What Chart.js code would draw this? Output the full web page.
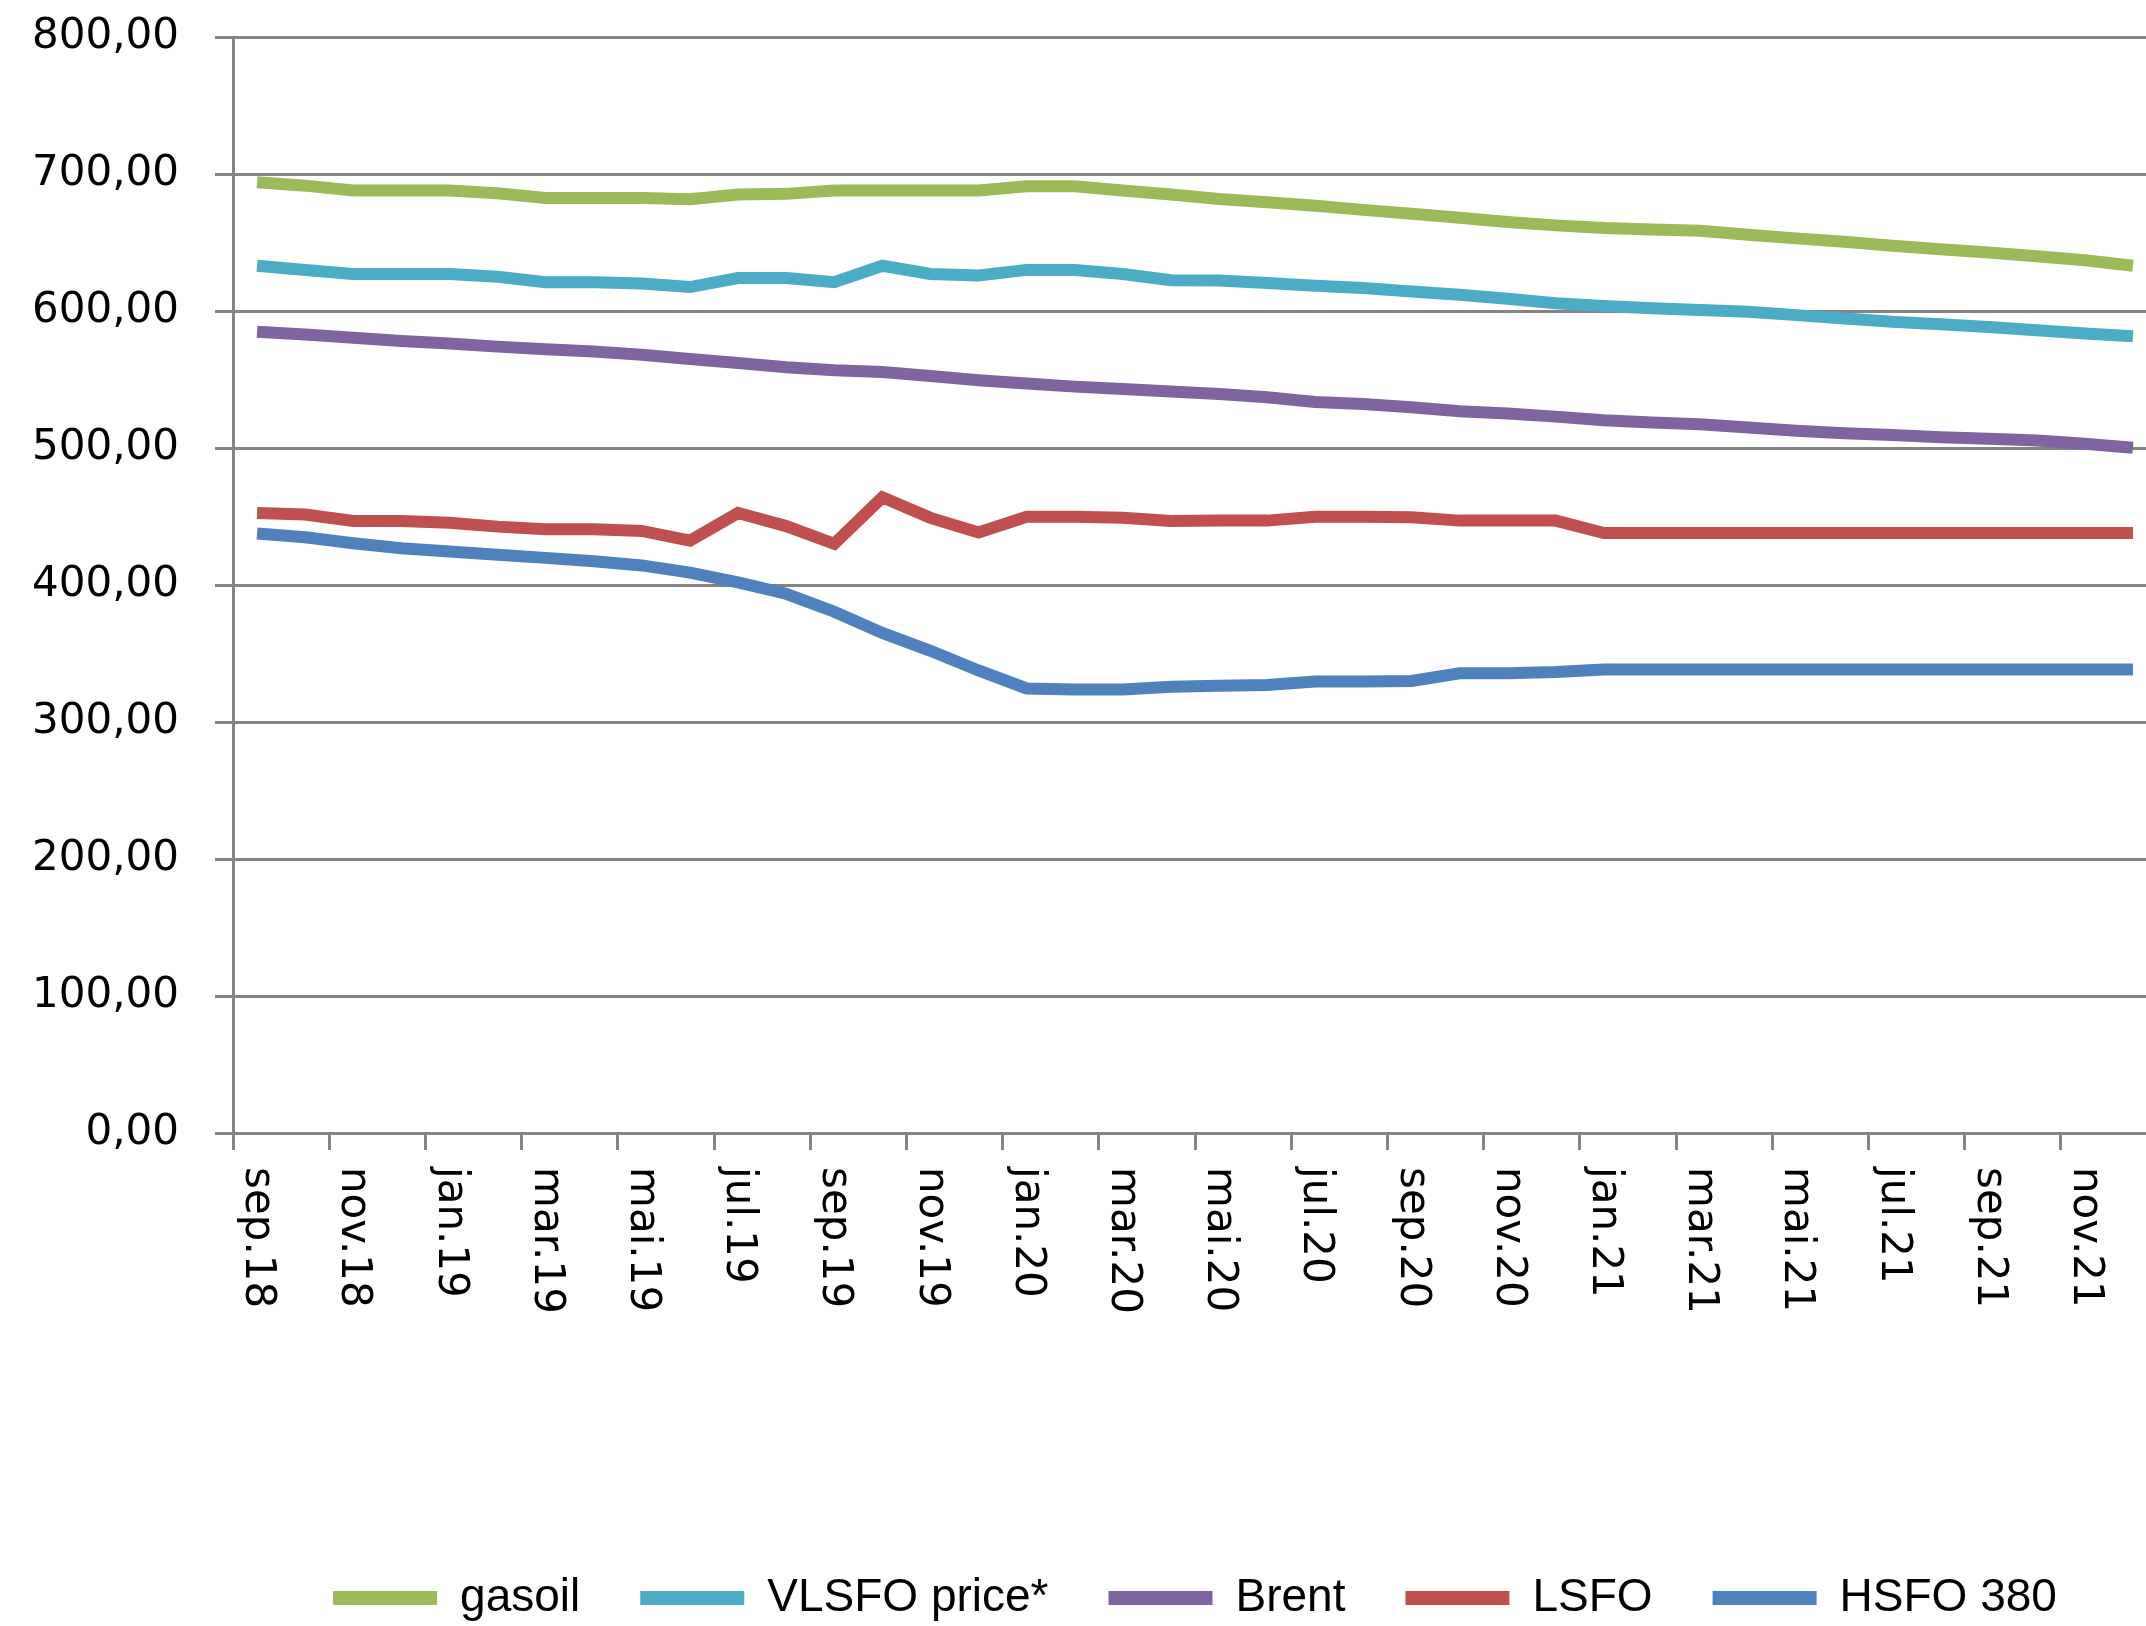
<!DOCTYPE html>
<html lang="no">
<head>
    <meta charset="UTF-8">
    <title>Drivstoffpriser</title>
    <style>
        html, body {
            margin: 0;
            padding: 0;
            background: #fff;
            overflow: hidden;
        }
        canvas {
            display: block;
        }
    </style>
</head>
<body>
    <canvas id="myChart" width="2160" height="1631"></canvas>

    <script src="https://cdn.jsdelivr.net/npm/chart.js"></script>
    <script>
        // Måneder sep.18 - des.21
        const months = [
            'sep.18', 'okt.18', 'nov.18', 'des.18',
            'jan.19', 'feb.19', 'mar.19', 'apr.19', 'mai.19', 'jun.19',
            'jul.19', 'aug.19', 'sep.19', 'okt.19', 'nov.19', 'des.19',
            'jan.20', 'feb.20', 'mar.20', 'apr.20', 'mai.20', 'jun.20',
            'jul.20', 'aug.20', 'sep.20', 'okt.20', 'nov.20', 'des.20',
            'jan.21', 'feb.21', 'mar.21', 'apr.21', 'mai.21', 'jun.21',
            'jul.21', 'aug.21', 'sep.21', 'okt.21', 'nov.21', 'des.21'
        ];

        const seriesNames = ['gasoil', 'VLSFO price*', 'Brent', 'LSFO', 'HSFO 380'];

        const gasoil = [
            694, 691.5, 688, 688, 688, 686, 682.5, 682.5, 682.5, 681.5,
            685, 685.5, 688, 688, 688, 688, 691, 691, 688, 685,
            681.7, 679.3, 676.8, 673.8, 671, 668, 665, 662.5, 660.5, 659.5,
            658.5, 655.6, 653, 650.6, 647.6, 645, 642.7, 640, 637, 633
        ];
        const vlsfo = [
            633, 630, 627, 627, 627, 625, 621, 621, 620, 617.5,
            624, 624, 621, 633, 627, 626, 630, 630, 627, 622.5,
            622.2, 620.5, 618.5, 616.8, 614.3, 611.9, 608.9, 605.7, 603.7, 602,
            600.7, 599.5, 597, 594.6, 592.1, 590.4, 588.4, 586, 583.5, 581.5
        ];
        const brent = [
            584.8, 582.9, 580.5, 578.1, 576.2, 574, 572.1, 570.5, 568.1, 565,
            562.1, 559, 556.7, 555.5, 552.6, 549.5, 547.1, 544.8, 543.1, 541.2,
            539.5, 537.1, 533.6, 532.1, 529.8, 526.9, 525.2, 522.9, 520.2, 518.6,
            517.4, 515, 512.6, 510.7, 509.5, 507.9, 506.7, 505.5, 503.1, 500.2
        ];
        const lsfo = [
            452.6, 451.4, 446.7, 446.7, 445.5, 442.6, 440.7, 440.7, 439.5, 432.4,
            452.6, 443, 430, 464, 449, 438.3, 449.8, 449.8, 449, 446.7,
            447, 447, 449.8, 449.8, 449.5, 447, 447, 447, 438, 438,
            438, 438, 438, 438, 438, 438, 438, 438, 438, 438
        ];
        const hsfo = [
            437.6, 434.8, 430.5, 426.9, 424.5, 422.1, 419.8, 417.4, 414.3, 409,
            401.9, 393.6, 380.5, 365, 352, 337.6, 324.5, 323.8, 323.8, 325.7,
            326.4, 327, 329.5, 329.5, 330, 335.5, 335.5, 336.5, 338.3, 338.3,
            338.3, 338.3, 338.3, 338.3, 338.3, 338.3, 338.3, 338.3, 338.3, 338.3
        ];

        const colors = ['#9BBB59', '#4BACC6', '#8064A2', '#C0504D', '#4F81BD'];
        const gridGray = '#848484';

        // Excel-aktige etiketter, rotert 90 grader (leses ovenfra og ned)
        const xLabelPlugin = {
            id: 'xLabels',
            afterDraw(chart) {
                const xs = chart.scales.x;
                const ctx = chart.ctx;
                ctx.save();
                ctx.font = '42px "DejaVu Sans"';
                ctx.fillStyle = '#000';
                ctx.textAlign = 'left';
                ctx.textBaseline = 'middle';
                xs.ticks.forEach((t, i) => {
                    if (i % 2 !== 0) return;
                    ctx.save();
                    ctx.translate(xs.getPixelForTick(i), xs.top + 34);
                    ctx.rotate(Math.PI / 2);
                    ctx.fillText(months[i], 0, 0);
                    ctx.restore();
                });
                ctx.restore();
            }
        };

        Chart.defaults.font.family = '"DejaVu Sans", sans-serif';
        Chart.defaults.color = '#000';

        const allData = [gasoil, vlsfo, brent, lsfo, hsfo];

        const ctx = document.getElementById('myChart').getContext('2d');
        const myChart = new Chart(ctx, {
            type: 'line',
            data: {
                labels: months,
                datasets: allData.map((d, i) => ({
                    label: seriesNames[i],
                    data: d,
                    borderColor: colors[i],
                    backgroundColor: colors[i],
                    borderWidth: 12,
                    pointRadius: 0,
                    tension: 0,
                    fill: false
                }))
            },
            plugins: [xLabelPlugin],
            options: {
                responsive: false,
                animation: false,
                devicePixelRatio: 1,
                layout: {
                    padding: { top: 37, left: 0, right: 3, bottom: 0 }
                },
                plugins: {
                    tooltip: { enabled: false },
                    legend: {
                        position: 'bottom',
                        fullSize: false,
                        labels: {
                            font: { family: '"Liberation Sans", Arial, sans-serif', size: 46 },
                            color: '#000',
                            boxWidth: 104,
                            boxHeight: 14,
                            padding: 60,
                            generateLabels(chart) {
                                const items = Chart.defaults.plugins.legend.labels.generateLabels(chart);
                                items.forEach(it => { it.lineWidth = 0; });
                                return items;
                            }
                        }
                    }
                },
                scales: {
                    x: {
                        offset: true,
                        ticks: { display: false, autoSkip: false },
                        grid: {
                            offset: true,
                            drawOnChartArea: false,
                            drawTicks: true,
                            tickLength: 17,
                            lineWidth: 3,
                            color: (c) => (c.index % 2 === 0 ? gridGray : 'rgba(0,0,0,0)')
                        },
                        border: { display: true, color: gridGray, width: 3 },
                        afterFit(scale) { scale.height = 382; }
                    },
                    y: {
                        min: 0,
                        max: 800,
                        ticks: {
                            stepSize: 100,
                            padding: 36,
                            font: { size: 42 },
                            color: '#000',
                            callback: (v) => v.toFixed(2).replace('.', ',')
                        },
                        grid: {
                            color: gridGray,
                            lineWidth: 3,
                            drawTicks: true,
                            tickLength: 18
                        },
                        border: { display: true, color: gridGray, width: 3 },
                        afterFit(scale) {
                            scale.width = 233;
                            scale.paddingTop = 0;
                            scale.paddingBottom = 0;
                        }
                    }
                }
            }
        });
    </script>
</body>
</html>
